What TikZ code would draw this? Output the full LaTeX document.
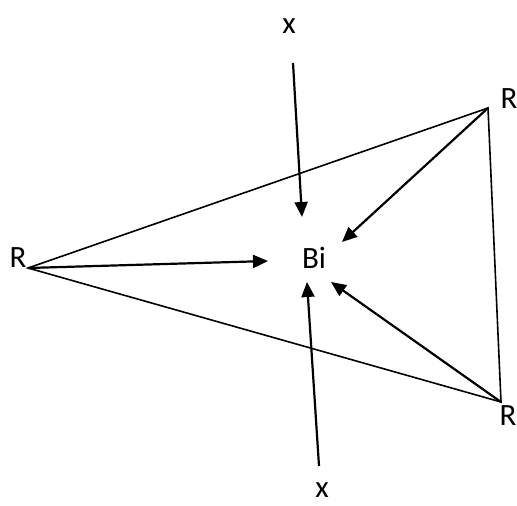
\documentclass[tikz,border=0pt]{standalone}
\usepackage{fontspec}
\setmainfont{Carlito}
\usetikzlibrary{arrows.meta}
\begin{document}
\begin{tikzpicture}[x=1bp,y=-1bp,
  lbl/.style={inner sep=0pt,font=\fontsize{31bp}{36bp}\selectfont},
  edge/.style={line width=1.6bp},
  arr/.style={line width=2.2bp,-{Triangle[length=15bp,width=13bp]}}]
\useasboundingbox (0,0) rectangle (517,506);
% vertices
\coordinate (L) at (28,268);
\coordinate (TR) at (488,108);
\coordinate (BR) at (501,402);
\coordinate (xt) at (293,63);
\coordinate (xb) at (319,466);
% arrow tips
\coordinate (t1) at (268,261);
\coordinate (t2) at (302,217);
\coordinate (t3) at (342,242);
\coordinate (t4) at (307,282);
\coordinate (t5) at (331,282);
% labels
\node[lbl] (rl) at (18,258) {R};
\node[lbl] (rt) at (509,99) {R};
\node[lbl] (rb) at (508,416) {R};
\node[lbl] (bi) at (314,258) {Bi};
\node[lbl] (xtop) at (289,26) {x};
\node[lbl] (xbot) at (322,490) {x};
% triangle
\draw[edge] (L) -- (TR) -- (BR) -- cycle;
% arrows
\draw[arr] (L) -- (t1);
\draw[arr] (xt) -- (t2);
\draw[arr] (TR) -- (t3);
\draw[arr] (xb) -- (t4);
\draw[arr] (BR) -- (t5);
\end{tikzpicture}
\end{document}
